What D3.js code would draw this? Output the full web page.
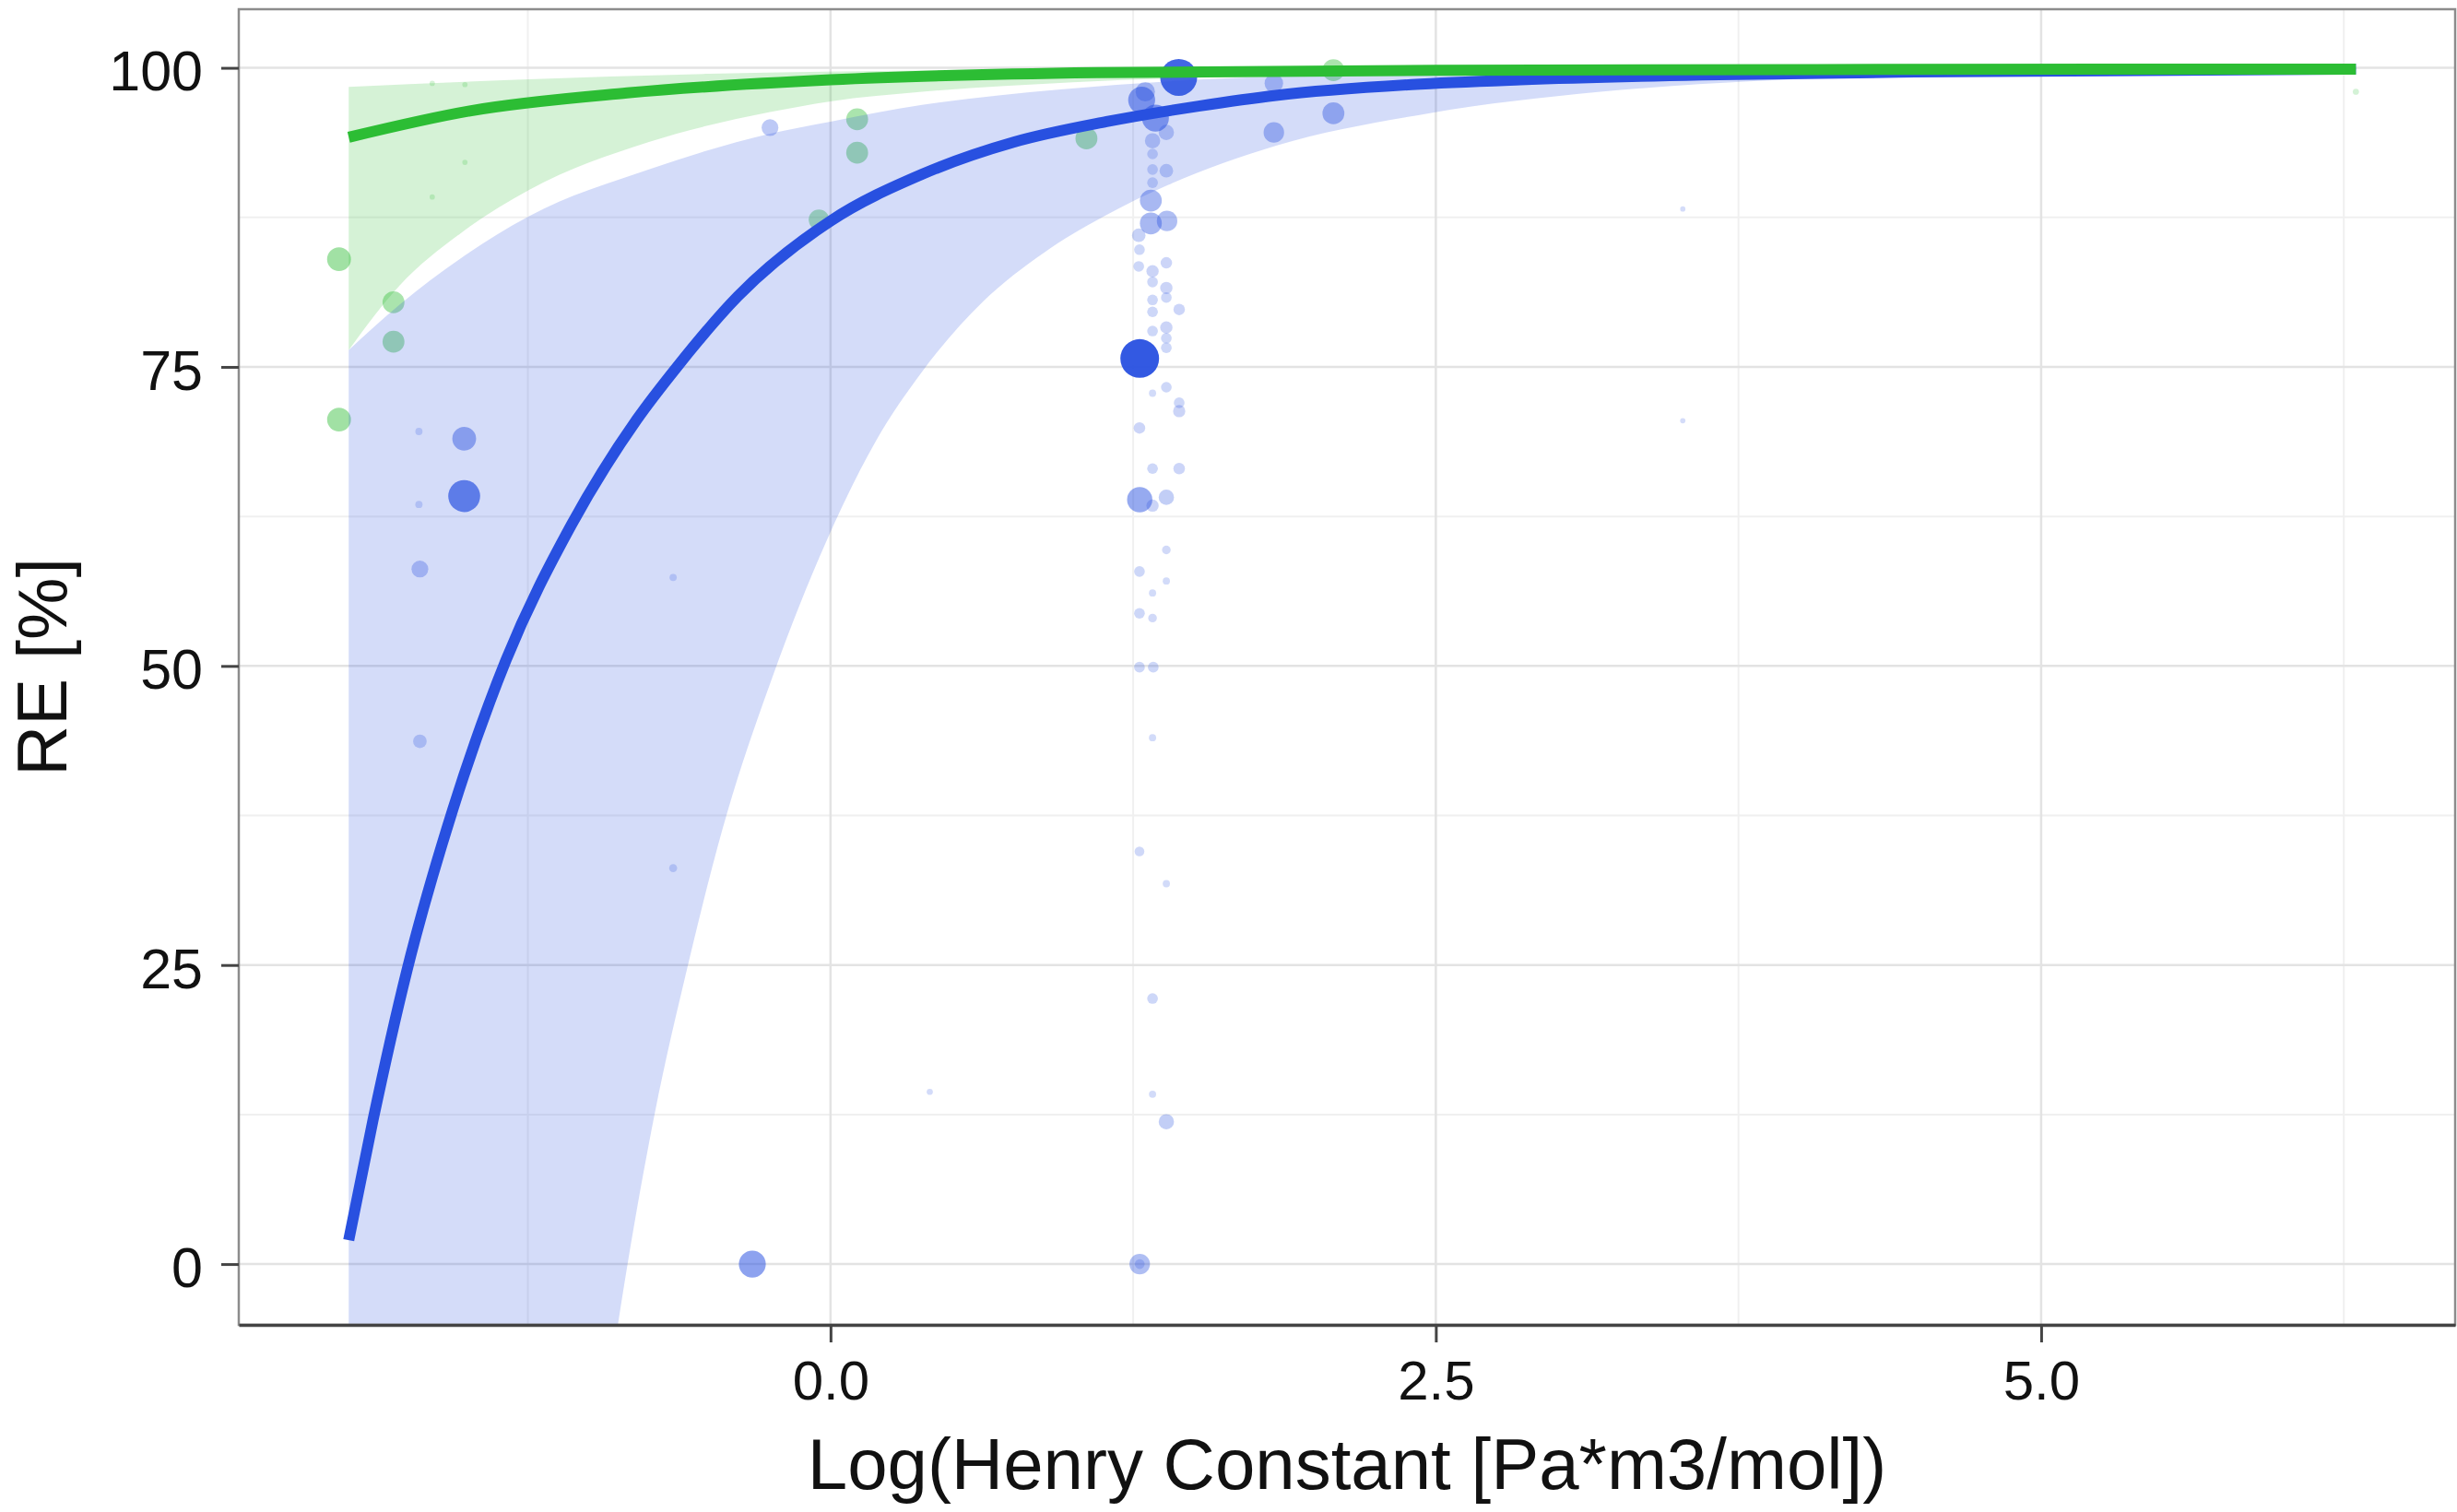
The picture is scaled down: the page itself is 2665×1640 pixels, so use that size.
<!DOCTYPE html>
<html>
<head>
<meta charset="utf-8">
<script src="https://cdn.jsdelivr.net/npm/d3@7"></script>
<style>
  body { margin: 0; background: #fff; }
  svg { display: block; font-family: "Liberation Sans", Arial, sans-serif; }
</style>
</head>
<body>
<div id="chart"></div>
<script>
// ---- data ----
// fitted curves, [logH, RE]
var blueFit = [[-1.99, 2.0], [-1.89, 12.0], [-1.75, 24.5], [-1.56, 38.0], [-1.34, 50.5], [-1.07, 61.8],
  [-0.80, 70.6], [-0.634, 75.0], [-0.383, 80.9], [0, 87.2], [0.378, 91.1], [0.759, 93.8], [1.14, 95.5],
  [1.52, 96.8], [1.84, 97.7], [2.4, 98.6], [2.85, 99.0], [3.6, 99.4], [4.48, 99.65], [6.3, 99.9]];
var blueLo = [[-1.99, -160], [-1.2, -52], [-0.95, -15], [-0.88, -5.3], [-0.727, 12.5], [-0.59, 24.9],
  [-0.447, 36.3], [-0.236, 49.3], [-0.02, 60.3], [0.187, 68.8], [0.378, 74.6], [0.632, 80.5], [0.885, 84.6],
  [1.139, 87.7], [1.393, 90.2], [1.84, 93.5], [2.47, 96.2], [3.18, 98.0], [3.83, 98.9], [4.5, 99.4],
  [5.5, 99.75], [6.3, 99.85]];
var blueHi = [[-1.99, 76.4], [-1.78, 80.2], [-1.526, 84.1], [-1.245, 87.6], [-0.75, 91.5], [-0.25, 94.5],
  [0, 95.5], [0.378, 96.9], [0.95, 98.2], [1.5, 99.0], [2.5, 99.6], [3.5, 99.85], [4.5, 99.95], [6.3, 100]];

var greenFit = [[-1.99, 94.2], [-1.49, 96.4], [-0.84, 97.9], [0, 99.0], [1.1, 99.6], [2.5, 99.8], [6.3, 99.9]];
var greenLo = [[-1.99, 76.4], [-1.78, 81.8], [-1.526, 86.2], [-1.245, 89.8], [-0.75, 93.8], [-0.25, 96.3],
  [0, 97.2], [0.378, 98.0], [1.0, 98.8], [2.0, 99.4], [3.0, 99.65], [6.3, 99.8]];
var greenHi = [[-1.99, 98.4], [-1.3, 99.0], [-0.5, 99.5], [0.5, 99.8], [2, 99.95], [6.3, 100]];

// observations, [logH, RE, n]
var bluePts = [
  [-1.513, 69.0, 33], [-1.513, 64.2, 65], [-1.696, 58.1, 14], [-1.696, 43.7, 8], [-1.70, 69.6, 1],
  [-1.70, 63.5, 1], [-0.65, 57.4, 1], [-0.65, 33.1, 1.5], [-0.323, 0.0, 44], [-0.250, 95.0, 14],
  [0.41, 14.4, 0.5], [1.438, 99.2, 90], [1.285, 97.3, 44], [1.342, 95.8, 44], [1.30, 98.0, 20],
  [1.387, 94.6, 11], [1.33, 93.9, 11], [1.33, 92.8, 4], [1.33, 91.5, 4], [1.387, 91.4, 8],
  [1.33, 90.4, 4], [1.323, 88.9, 27], [1.323, 87.0, 27], [1.39, 87.2, 23], [1.273, 86.0, 8],
  [1.276, 84.8, 4], [1.273, 83.4, 4], [1.33, 83.0, 6], [1.33, 82.1, 4], [1.387, 83.7, 5],
  [1.387, 81.6, 6], [1.387, 80.8, 4], [1.33, 80.6, 4], [1.44, 79.8, 5], [1.33, 79.6, 4],
  [1.387, 78.3, 6], [1.33, 78.0, 4], [1.387, 77.4, 4], [1.387, 76.6, 4], [1.277, 75.7, 100],
  [1.387, 73.3, 4], [1.33, 72.8, 1], [1.44, 72.0, 4], [1.44, 71.3, 6], [1.276, 69.9, 5],
  [1.33, 66.5, 4], [1.44, 66.5, 5], [1.277, 63.9, 38], [1.387, 64.1, 11], [1.33, 63.4, 6],
  [1.387, 59.7, 2], [1.276, 57.9, 4], [1.387, 57.1, 1], [1.33, 56.1, 1], [1.276, 54.4, 4],
  [1.33, 54.0, 2], [1.276, 49.9, 4], [1.333, 49.9, 4], [1.33, 44.0, 1], [1.276, 34.5, 3],
  [1.387, 31.8, 1], [1.33, 22.2, 4], [1.33, 14.2, 1], [1.387, 11.9, 11], [1.277, 0.0, 23],
  [1.277, 0.0, 3], [1.831, 98.7, 18], [1.831, 94.6, 23], [2.077, 96.2, 27], [3.52, 88.2, 0.2],
  [3.52, 70.5, 0.2]
];
var greenPts = [
  [-2.03, 84.0, 33], [-2.03, 70.6, 33], [-1.805, 80.4, 27], [-1.805, 77.1, 27], [-0.048, 87.3, 23],
  [0.11, 95.7, 27], [0.11, 92.9, 27], [1.057, 94.1, 27], [2.077, 99.8, 27], [-1.645, 98.7, 0.2],
  [-1.51, 98.6, 0.2], [-1.51, 92.1, 0.2], [-1.645, 89.2, 0.2], [6.30, 98.0, 0.5]
];

var xTicks = [0, 2.5, 5];
var xMinor = [-1.25, 1.25, 3.75, 6.25];
var yTicks = [0, 25, 50, 75, 100];
var yMinor = [12.5, 37.5, 62.5, 87.5];

// ---- layout ----
var svgWidth = 2665, svgHeight = 1640;
var panel = { left: 259, top: 10, right: 2663, bottom: 1437 };
var blue = "#2850e0", green = "#2cbd34";

var svg = d3.select("#chart").append("svg")
  .attr("width", svgWidth)
  .attr("height", svgHeight);

var x = d3.scaleLinear().domain([-2.444, 6.71]).range([panel.left, panel.right]);
var y = d3.scaleLinear().domain([-5.08, 104.9]).range([panel.bottom, panel.top]);
var r = d3.scaleSqrt().domain([0, 100]).range([2, 21]);
var alpha = d3.scaleLinear().domain([0, 100]).range([0.2, 0.95]);

svg.append("defs").append("clipPath").attr("id", "clip")
  .append("rect")
  .attr("x", panel.left).attr("y", panel.top)
  .attr("width", panel.right - panel.left).attr("height", panel.bottom - panel.top);

// gridlines
var grid = svg.append("g");
grid.selectAll("line.ymin").data(yMinor).enter().append("line")
  .attr("x1", panel.left).attr("x2", panel.right)
  .attr("y1", d => y(d)).attr("y2", d => y(d))
  .attr("stroke", "#f0f0f0").attr("stroke-width", 2);
grid.selectAll("line.xmin").data(xMinor).enter().append("line")
  .attr("y1", panel.top).attr("y2", panel.bottom)
  .attr("x1", d => x(d)).attr("x2", d => x(d))
  .attr("stroke", "#f0f0f0").attr("stroke-width", 2);
grid.selectAll("line.ymaj").data(yTicks).enter().append("line")
  .attr("x1", panel.left).attr("x2", panel.right)
  .attr("y1", d => y(d)).attr("y2", d => y(d))
  .attr("stroke", "#e3e3e3").attr("stroke-width", 2.5);
grid.selectAll("line.xmaj").data(xTicks).enter().append("line")
  .attr("y1", panel.top).attr("y2", panel.bottom)
  .attr("x1", d => x(d)).attr("x2", d => x(d))
  .attr("stroke", "#e3e3e3").attr("stroke-width", 2.5);

var plot = svg.append("g").attr("clip-path", "url(#clip)");

// points
function drawPoints(data, color) {
  plot.append("g").selectAll("circle")
    .data(data)
    .enter()
    .append("circle")
    .attr("cx", d => x(d[0]))
    .attr("cy", d => y(d[1]))
    .attr("r", d => r(d[2]))
    .attr("fill", color)
    .attr("fill-opacity", d => alpha(d[2]));
}
drawPoints(greenPts, green);
drawPoints(bluePts, blue);

// smooth curves with ribbons
var line = d3.line().x(d => x(d[0])).y(d => y(d[1])).curve(d3.curveMonotoneX);

function drawSmooth(lo, hi, fit, color) {
  var top = line(hi);
  var bottom = line(lo.slice().reverse()).replace(/^M/, "L");
  plot.append("path")
    .attr("d", top + bottom + "Z")
    .attr("fill", color)
    .attr("fill-opacity", 0.2);
  plot.append("path")
    .attr("d", line(fit))
    .attr("fill", "none")
    .attr("stroke", color)
    .attr("stroke-width", 12);
}
drawSmooth(blueLo, blueHi, blueFit, blue);
drawSmooth(greenLo, greenHi, greenFit, green);

// panel border
svg.append("rect")
  .attr("x", panel.left).attr("y", panel.top)
  .attr("width", panel.right - panel.left).attr("height", panel.bottom - panel.top)
  .attr("fill", "none").attr("stroke", "#8c8c8c").attr("stroke-width", 2.5);

// axes
var xAxis = svg.append("g")
  .attr("transform", `translate(0, ${panel.bottom})`)
  .call(d3.axisBottom(x).tickValues(xTicks).tickFormat(d3.format(".1f"))
    .tickSize(19).tickSizeOuter(0).tickPadding(19));
var yAxis = svg.append("g")
  .attr("transform", `translate(${panel.left}, 0)`)
  .call(d3.axisLeft(y).tickValues(yTicks).tickFormat(d3.format("d"))
    .tickSize(19).tickSizeOuter(0).tickPadding(20));

xAxis.select(".domain").attr("stroke", "#444").attr("stroke-width", 3.5);
yAxis.select(".domain").remove();
xAxis.selectAll(".tick line").attr("stroke", "#444").attr("stroke-width", 3);
yAxis.selectAll(".tick line").attr("stroke", "#444").attr("stroke-width", 3);
xAxis.selectAll(".tick text").attr("font-size", 60).attr("fill", "#111");
yAxis.selectAll(".tick text").attr("font-size", 61).attr("fill", "#111").attr("dy", "0.4em");
xAxis.attr("font-family", null);
yAxis.attr("font-family", null);

// axis titles
svg.append("text")
  .attr("x", (panel.left + panel.right) / 2)
  .attr("y", 1615)
  .attr("text-anchor", "middle")
  .attr("font-size", 78)
  .attr("fill", "#111")
  .text("Log(Henry Constant [Pa*m3/mol])");

svg.append("text")
  .attr("transform", `translate(72, ${(panel.top + panel.bottom) / 2}) rotate(-90)`)
  .attr("text-anchor", "middle")
  .attr("font-size", 76)
  .attr("fill", "#111")
  .text("RE [%]");
</script>
</body>
</html>
